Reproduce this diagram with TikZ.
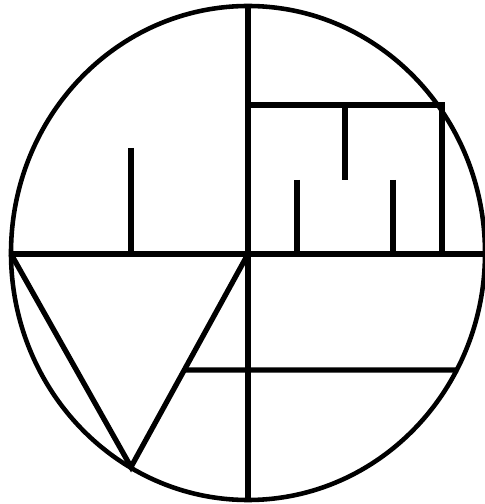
\documentclass[tikz,border=0pt]{standalone}
\usepackage{tikz}
\usetikzlibrary{calc}

\begin{document}
\begin{tikzpicture}[x=0.02cm,y=0.02cm]
  \useasboundingbox (0,0) rectangle (484,504);
  \tikzset{stroke/.style={black, line width=3pt, line cap=butt},
           rim/.style={black, line width=2.6pt}}
  % outer rim
  \draw[rim] (248,251) ellipse [x radius=237, y radius=247];
  % main cross
  \coordinate (top) at (248,498);
  \coordinate (bot) at (248,4);
  \coordinate (west) at (11,250);
  \coordinate (east) at (486,250);
  \draw[stroke] (top) -- (bot);
  \draw[stroke] (west) -- (east);
  % left tick
  \draw[stroke] (131,356) -- (131,250);
  % box with teeth
  \draw[stroke] (248,399) -- (442,399) -- (442,250);
  \draw[stroke] (345,399) -- (345,324);
  \draw[stroke] (297,324) -- (297,250);
  \draw[stroke] (393,324) -- (393,250);
  % triangle
  \coordinate (apex) at (131,37);
  \draw[stroke, line join=miter] (west) -- (apex) -- (248,250);
  % lower bar
  \draw[stroke] ($(248,250)!{116/213}!(apex)$) -- (458,134);
\end{tikzpicture}
\end{document}
